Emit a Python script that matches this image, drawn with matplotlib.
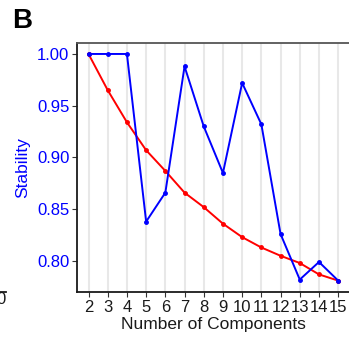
import matplotlib
matplotlib.use("Agg")
import matplotlib.pyplot as plt
from matplotlib.lines import Line2D

plt.rcParams['font.family'] = ['Liberation Sans', 'DejaVu Sans']

components = [2, 3, 4, 5, 6, 7, 8, 9, 10, 11, 12, 13, 14, 15]
stability_blue = [1.000, 1.000, 1.000, 0.838, 0.866, 0.988, 0.930, 0.885, 0.972, 0.932, 0.826, 0.782, 0.799, 0.781]
stability_red = [1.000, 0.965, 0.934, 0.907, 0.887, 0.866, 0.852, 0.836, 0.823, 0.813, 0.805, 0.798, 0.787, 0.781]
yticks = [0.80, 0.85, 0.90, 0.95, 1.00]

fig = plt.figure(figsize=(3.49, 3.41), dpi=100)
ax = fig.add_axes([77/349, 1-292/341, 1-77/349+0.002, (292-43)/341])

for x in components:
    ax.axvline(x, color='#e8e8e8', lw=1.5, zorder=0)

ax.plot(components, stability_red, color='#ff0000', lw=1.4, marker='o', ms=2.5, zorder=3)
ax.plot(components, stability_blue, color='#0000ff', lw=1.4, marker='o', ms=2.5, zorder=4)

ax.set_xlim(1.4, 15.6)
ax.set_ylim(0.770, 1.0106)
ax.set_xticks(components)
ax.set_xticklabels([str(c) for c in components])
ax.set_yticks(yticks)
ax.set_yticklabels([f"{v:.2f}" for v in yticks])

ax.tick_params(axis='y', colors='#333333', labelcolor='#0000ff', labelsize=12, length=3.5, width=0.8, pad=2)
ax.tick_params(axis='x', colors='#333333', labelcolor='#1a1a1a', labelsize=12, length=3.5, width=0.8, pad=2.5)

ax.spines['left'].set_color('#1a1a1a')
ax.spines['bottom'].set_color('#1a1a1a')
ax.spines['top'].set_color('#555555')
ax.spines['right'].set_visible(False)
for s in ['left', 'bottom', 'top']:
    ax.spines[s].set_linewidth(1.3)

ax.set_xlabel('Number of Components', fontsize=12.5, color='#1a1a1a', labelpad=1.5)
ax.set_ylabel('Stability', fontsize=12.5, color='#0000ff', labelpad=5)

fig.text(12/349, 1-21/341, 'B', fontsize=20, fontweight='bold', ha='left', va='center', color='black')

# fragment of neighbouring panel
fig.text(6/349, 1-299/341, '0', fontsize=12, ha='right', va='center', color='#1a1a1a')
fig.add_artist(Line2D([0, 6/349], [1-292/341, 1-292/341], color='#1a1a1a', lw=1.3))

fig.savefig('out.png', dpi=100)
